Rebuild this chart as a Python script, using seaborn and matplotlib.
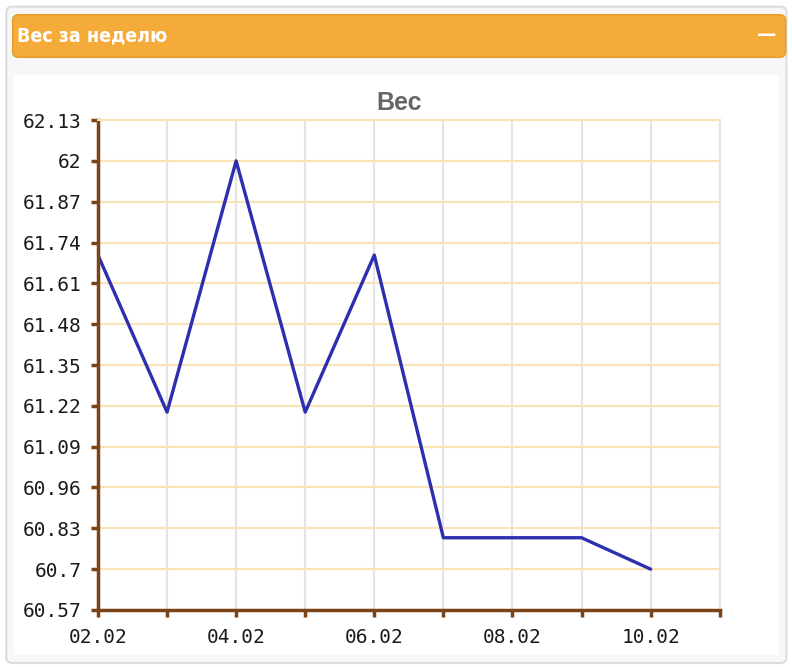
import matplotlib
matplotlib.use("Agg")
import matplotlib.pyplot as plt
from matplotlib.patches import FancyBboxPatch
from matplotlib.ticker import FixedLocator, FixedFormatter
import seaborn as sns
import pandas as pd

# Данные
dates = ['02.02', '03.02', '04.02', '05.02', '06.02', '07.02', '08.02', '09.02', '10.02', '11.02']
weights = [61.7, 61.2, 62.0, 61.2, 61.7, 60.8, 60.8, 60.8, 60.7]
y_ticks = [60.57, 60.7, 60.83, 60.96, 61.09, 61.22, 61.35, 61.48, 61.61, 61.74, 61.87, 62.0, 62.13]

data = pd.DataFrame({'idx': range(len(weights)), 'Вес': weights})

sns.set_style("white")
plt.rcParams['font.family'] = ['DejaVu Sans']

fig = plt.figure(figsize=(7.92, 6.67), dpi=100)

# Рамка панели
fig.patches.append(FancyBboxPatch((0.008, 0.006), 0.985, 0.984, boxstyle="round,pad=0,rounding_size=0.008",
                                  transform=fig.transFigure, facecolor='#f7f7f7', edgecolor='#dcdcdc',
                                  lw=1.5, zorder=-3))
fig.patches.append(FancyBboxPatch((0.018, 0.018), 0.965, 0.87, boxstyle="square,pad=0",
                                  transform=fig.transFigure, facecolor='white', edgecolor='none', zorder=-2))
# Заголовок панели
fig.patches.append(FancyBboxPatch((0.016, 0.914), 0.976, 0.064, boxstyle="round,pad=0,rounding_size=0.008",
                                  transform=fig.transFigure, facecolor='#f5ab3a', edgecolor='#e59a2a',
                                  lw=1, zorder=-2))
fig.text(0.022, 0.946, 'Вес за неделю', color='white', fontsize=14, fontweight='bold',
         family=['DejaVu Sans'], fontstretch='condensed', va='center', ha='left')
fig.text(0.968, 0.948, '—', color='white', fontsize=14, fontweight='bold', va='center', ha='center')

ax = fig.add_axes([0.1237, 0.0855, 0.785, 0.7345])
ax.patch.set_alpha(0)
sns.lineplot(data=data, x='idx', y='Вес', ax=ax, color='#2e2eb0', linewidth=2.4)

ax.set_xlim(0, len(dates) - 1)
ax.set_ylim(y_ticks[0], y_ticks[-1])
ax.set_xticks(range(len(dates)))
ax.set_xticklabels([d if i % 2 == 0 else '' for i, d in enumerate(dates)])
ax.yaxis.set_major_locator(FixedLocator(y_ticks))
ax.yaxis.set_major_formatter(FixedFormatter([('%.2f' % v).rstrip('0').rstrip('.') for v in y_ticks]))

ax.grid(axis='x', color='#e4e4e4', lw=1.5)
ax.grid(axis='y', color='#f8e4b4', lw=1.5)
ax.set_axisbelow(True)

brown = '#7b4316'
for s in ['left', 'bottom']:
    ax.spines[s].set_color(brown)
    ax.spines[s].set_linewidth(2.5)
ax.spines['top'].set_color('#f8e4b4')
ax.spines['right'].set_color('#e4e4e4')
ax.spines['top'].set_linewidth(1.5)
ax.spines['right'].set_linewidth(1.5)

ax.tick_params(axis='both', bottom=True, left=True, length=5, width=2.5, color=brown,
               labelsize=14, labelcolor='#1a1a1a')
ax.tick_params(axis='y', pad=7)
ax.tick_params(axis='x', pad=8)
for lbl in ax.get_xticklabels() + ax.get_yticklabels():
    lbl.set_family('DejaVu Sans Mono')
ax.set_xlabel('')
ax.set_ylabel('')
ax.set_title('Вес', fontsize=18, fontweight='bold', color='#666666', pad=7, x=0.485,
             family=['Liberation Sans', 'DejaVu Sans'])

plt.savefig('out.png', dpi=100)
plt.close()
